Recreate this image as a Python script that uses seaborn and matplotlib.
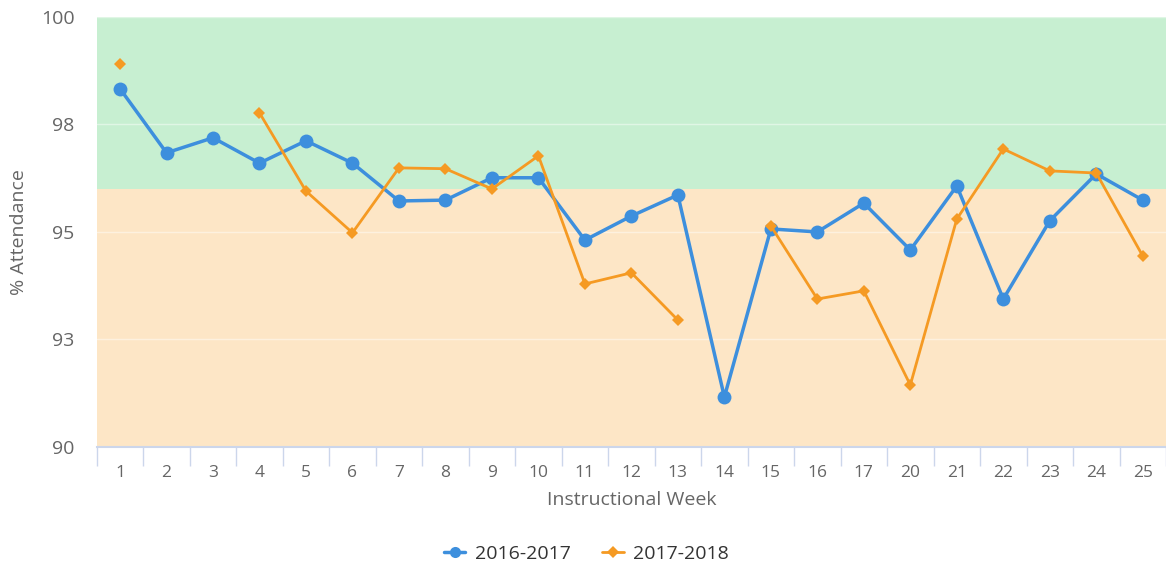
import numpy as np
import pandas as pd
import seaborn as sns
import matplotlib.pyplot as plt
from matplotlib.lines import Line2D

# Data
weeks = ['1', '2', '3', '4', '5', '6', '7', '8', '9', '10', '11', '12', '13',
         '14', '15', '16', '17', '20', '21', '22', '23', '24', '25']
att_2016 = [98.33, 96.84, 97.19, 96.60, 97.12, 96.60, 95.72, 95.74, 96.26, 96.26,
            94.81, 95.37, 95.86, 91.16, 95.07, 95.00, 95.67, 94.58, 96.07, 93.44,
            95.26, 96.35, 95.74]
att_2017 = [98.91, None, None, 97.77, 95.95, 94.98, 96.49, 96.47, 96.00, 96.77,
            93.79, 94.05, 92.95, None, 95.14, 93.44, 93.63, 91.44, 95.30, 96.93,
            96.42, 96.37, 94.44]
yticks = [90, 92.5, 95, 97.5, 100]
ytick_labels = ['90', '93', '95', '98', '100']
goal = 96

blue = '#3d8fdd'
orange = '#f59a23'
text_c = '#666666'

sns.set_theme(style='white')
plt.rcParams['font.family'] = ['Open Sans', 'DejaVu Sans']

df = pd.DataFrame({'pos': np.arange(len(weeks)),
                   '2016-2017': att_2016,
                   '2017-2018': pd.to_numeric(pd.Series(att_2017))})
# segment ids so that missing weeks break the line
df['seg'] = df['2017-2018'].isna().cumsum()

fig = plt.figure(figsize=(11.66, 5.65), dpi=100)
ax = fig.add_axes([0.083, 0.209, 0.917, 0.761])

ax.axhspan(goal, 100, color='#c7efd1', zorder=0, lw=0)
ax.axhspan(90, goal, color='#fde6c6', zorder=0, lw=0)
for y in yticks[1:]:
    ax.axhline(y, color='white', alpha=0.45, lw=1, zorder=0.5)

sns.lineplot(data=df, x='pos', y='2016-2017', color=blue, lw=2.5,
             marker='o', markersize=10, markeredgewidth=0, ax=ax, zorder=3)
d2 = df.dropna(subset=['2017-2018'])
sns.lineplot(data=d2, x='pos', y='2017-2018', units='seg', estimator=None,
             color=orange, lw=2, marker='D', markersize=6.5, markeredgewidth=0,
             ax=ax, zorder=4)

ax.set_xlim(-0.5, len(weeks) - 0.5)
ax.set_ylim(90, 100)
ax.set_yticks(yticks)
ax.set_yticklabels(ytick_labels, color=text_c, fontsize=14)
ax.set_xticks(np.arange(len(weeks)))
ax.set_xticklabels(weeks, color=text_c, fontsize=12.5)
ax.set_xticks(np.arange(len(weeks) + 1) - 0.5, minor=True)
ax.tick_params(axis='x', which='major', length=0, pad=13)
ax.tick_params(axis='x', which='minor', length=14, color='#ccd6eb', width=1,
               direction='out', bottom=True)
ax.tick_params(axis='y', length=0, pad=16)
for s in ['top', 'right', 'left']:
    ax.spines[s].set_visible(False)
ax.spines['bottom'].set_color('#ccd6eb')
ax.spines['bottom'].set_linewidth(1.5)

ax.set_xlabel('Instructional Week', color=text_c, fontsize=14, labelpad=7)
ax.set_ylabel('% Attendance', color=text_c, fontsize=14, labelpad=9)

handles = [Line2D([], [], color=blue, lw=2.5, marker='o', markersize=8, markeredgewidth=0),
           Line2D([], [], color=orange, lw=2, marker='D', markersize=6, markeredgewidth=0)]
leg = fig.legend(handles, ['2016-2017', '2017-2018'], loc='center',
                 bbox_to_anchor=(0.503, 0.02), ncol=2, frameon=False,
                 fontsize=14, handlelength=1.1, handletextpad=0.5,
                 columnspacing=1.6)
for t in leg.get_texts():
    t.set_color('#333333')

fig.savefig('out.png', dpi=100)
